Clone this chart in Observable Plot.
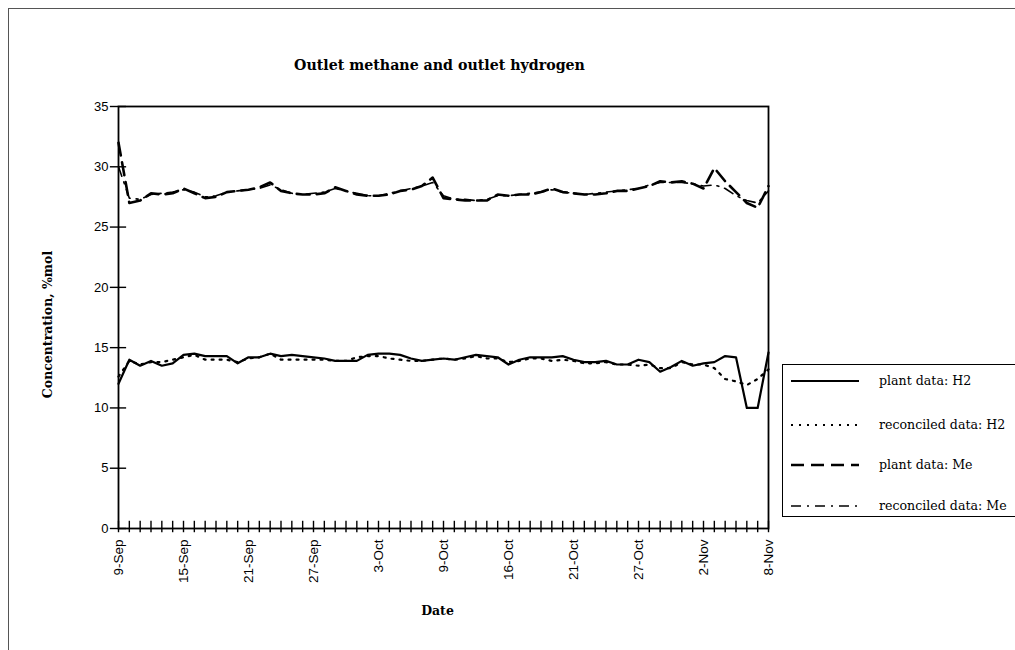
<!DOCTYPE html>
<html>
<head>
<meta charset="utf-8">
<script src="https://cdn.jsdelivr.net/npm/d3@7"></script>
<script src="https://cdn.jsdelivr.net/npm/@observablehq/plot@0.6"></script>
<style>
  body { margin: 0; background: #fff; }
  #wrap { position: relative; width: 1015px; height: 650px; overflow: hidden; background: #fff; }
  #page-frame { position: absolute; left: 8px; top: 8px; width: 1100px; height: 700px;
                border-left: 1px solid #555; border-top: 1px solid #555; }
  #chart { position: absolute; left: 0; top: 0; }
  #legend { position: absolute; left: 782px; top: 364px; width: 260px; height: 151px;
            border: 1px solid #000; background: #fff; }
</style>
</head>
<body>
<div id="wrap">
  <div id="page-frame"></div>
  <div id="chart"></div>
  <div id="legend"></div>
</div>
<script>
// Category axis: one point per sample, a label every sixth sample
const tickLabels = ["9-Sep", "15-Sep", "21-Sep", "27-Sep", "3-Oct", "9-Oct",
                    "16-Oct", "21-Oct", "27-Oct", "2-Nov", "8-Nov"];
const yTicks = [0, 5, 10, 15, 20, 25, 30, 35];

// Outlet hydrogen, %mol
const plantH2 = [12.0, 14.0, 13.5, 13.9, 13.5, 13.7, 14.4, 14.5, 14.3, 14.3,
                 14.3, 13.7, 14.2, 14.2, 14.5, 14.3, 14.4, 14.3, 14.2, 14.1,
                 13.9, 13.9, 13.9, 14.4, 14.5, 14.5, 14.4, 14.1, 13.9, 14.0,
                 14.1, 14.0, 14.2, 14.4, 14.3, 14.2, 13.6, 14.0, 14.2, 14.2,
                 14.2, 14.3, 14.0, 13.8, 13.8, 13.9, 13.6, 13.6, 14.0, 13.8,
                 13.0, 13.4, 13.9, 13.5, 13.7, 13.8, 14.3, 14.2, 10.0, 10.0,
                 14.6];
const reconH2 = [12.6, 13.9, 13.6, 13.8, 13.8, 14.0, 14.2, 14.4, 14.0, 14.0,
                 14.0, 13.8, 14.1, 14.2, 14.5, 14.0, 14.0, 14.0, 14.0, 14.0,
                 13.9, 13.9, 14.2, 14.3, 14.3, 14.1, 14.0, 13.9, 13.9, 14.0,
                 14.1, 14.0, 14.1, 14.3, 14.1, 14.1, 13.8, 13.9, 14.1, 14.1,
                 13.9, 14.0, 13.9, 13.7, 13.7, 13.8, 13.6, 13.6, 13.5, 13.6,
                 13.3, 13.3, 13.8, 13.6, 13.6, 13.3, 12.4, 12.2, 11.9, 12.4,
                 13.2];

// Outlet methane, %mol
const plantMe = [32.0, 27.0, 27.2, 27.8, 27.7, 27.8, 28.2, 27.8, 27.4, 27.5,
                 27.9, 28.0, 28.1, 28.3, 28.7, 28.0, 27.8, 27.7, 27.7, 27.8,
                 28.3, 28.0, 27.7, 27.6, 27.6, 27.7, 28.0, 28.1, 28.4, 29.1,
                 27.4, 27.3, 27.2, 27.2, 27.2, 27.7, 27.6, 27.7, 27.7, 27.9,
                 28.2, 27.9, 27.8, 27.7, 27.7, 27.8, 28.0, 28.0, 28.2, 28.4,
                 28.8, 28.7, 28.8, 28.6, 28.2, 29.9, 28.8, 27.9, 27.0, 26.6,
                 28.4];
const reconMe = [30.0, 27.4, 27.3, 27.7, 27.8, 27.9, 28.1, 27.9, 27.5, 27.6,
                 27.9, 28.0, 28.1, 28.2, 28.5, 28.1, 27.8, 27.7, 27.8, 27.9,
                 28.2, 28.0, 27.8, 27.6, 27.6, 27.8, 28.0, 28.2, 28.4, 28.7,
                 27.6, 27.3, 27.3, 27.2, 27.3, 27.6, 27.6, 27.7, 27.8, 27.9,
                 28.1, 27.9, 27.8, 27.7, 27.8, 27.9, 28.0, 28.1, 28.2, 28.5,
                 28.7, 28.7, 28.7, 28.6, 28.4, 28.5, 28.2, 27.6, 27.2, 27.0,
                 28.0];

const series = [
  {name: "plant data: H2",      values: plantH2, dash: null,         width: 2.2},
  {name: "reconciled data: H2", values: reconH2, dash: "2,6",        width: 2.2},
  {name: "plant data: Me",      values: plantMe, dash: "13,7",       width: 2.6},
  {name: "reconciled data: Me", values: reconMe, dash: "10,6,2,6",   width: 1.6}
];

const idx = d3.range(plantH2.length);
const serif = "'DejaVu Serif', 'Liberation Serif', serif";

const chart = Plot.plot({
  width: 1015,
  height: 650,
  marginLeft: 118,
  marginRight: 247,
  marginTop: 106,
  marginBottom: 122,
  x: {domain: [0, idx.length - 1]},
  y: {domain: [0, 35]},
  style: {fontFamily: "'Liberation Sans', Arial, sans-serif", fontSize: "13px",
          color: "#000", background: "transparent"},
  marks: [
    Plot.frame({stroke: "#000", strokeWidth: 1.8}),
    // tick marks crossing the axes
    Plot.ruleX(idx, {x: d => d, y1: -0.35, y2: 0.6, stroke: "#000", strokeWidth: 1.4}),
    Plot.ruleY(yTicks, {y: d => d, x1: -0.75, x2: 0.75, stroke: "#000", strokeWidth: 1.4}),
    Plot.axisY(yTicks, {tickSize: 0, tickPadding: 10, label: null, fontSize: 13}),
    Plot.axisX(d3.range(0, idx.length, 6), {
      tickSize: 0, tickPadding: 11, tickRotate: -90, label: null, fontSize: 13.5,
      tickFormat: i => tickLabels[i / 6]
    }),
    ...series.map(s => Plot.line(s.values, {
      x: (d, i) => i, y: d => d,
      stroke: "#000", strokeWidth: s.width,
      strokeDasharray: s.dash ?? undefined,
      strokeLinejoin: "round"
    })),
    Plot.text(["Outlet methane and outlet hydrogen"], {
      text: d => d, frameAnchor: "top", dy: -47, dx: -4,
      fontFamily: serif, fontWeight: "bold", fontSize: 14.2
    }),
    Plot.text(["Concentration, %mol"], {
      text: d => d, frameAnchor: "left", textAnchor: "middle", dx: -71, dy: 7, rotate: -90,
      fontFamily: serif, fontWeight: "bold", fontSize: 12.5
    }),
    Plot.text(["Date"], {
      text: d => d, frameAnchor: "bottom", dy: 86, dx: -6,
      fontFamily: serif, fontWeight: "bold", fontSize: 12.5
    })
  ]
});
document.getElementById("chart").appendChild(chart);

// Legend box: sample stroke and series name per row
const rowY = [16, 60, 100, 141];
const leg = d3.select("#legend").append("svg")
  .attr("width", 260).attr("height", 151);
series.forEach((s, k) => {
  leg.append("line")
    .attr("x1", 8).attr("x2", 76).attr("y1", rowY[k]).attr("y2", rowY[k])
    .attr("stroke", "#000").attr("stroke-width", s.width)
    .attr("stroke-dasharray", s.dash);
  leg.append("text")
    .attr("x", 96).attr("y", rowY[k]).attr("dy", "0.35em")
    .attr("font-family", serif).attr("font-size", 12.6)
    .text(s.name);
});
</script>
</body>
</html>
